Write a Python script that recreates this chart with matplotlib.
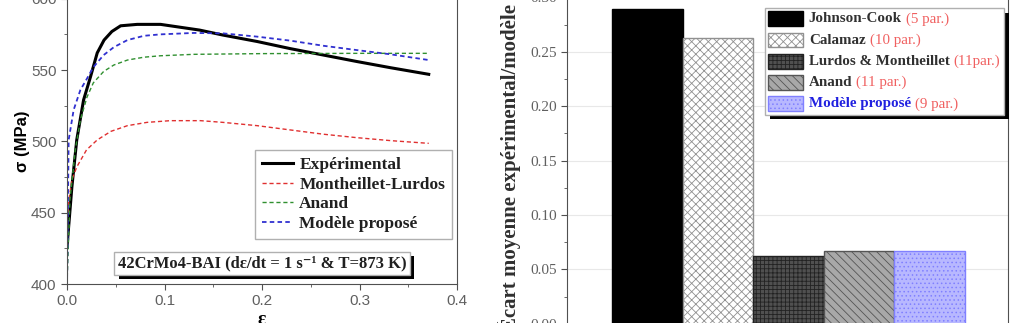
import matplotlib.pyplot as plt
import matplotlib.patheffects as pe
from matplotlib.patches import Rectangle
from matplotlib.offsetbox import AnchoredOffsetbox, VPacker, HPacker, TextArea, DrawingArea
import numpy as np

plt.rcParams['hatch.linewidth'] = 0.6

# ---- left panel: stress-strain curves
eps_exp = [0, 0.005, 0.010, 0.017, 0.024, 0.031, 0.038, 0.046, 0.055, 0.072, 0.096, 0.116,
           0.136, 0.160, 0.195, 0.229, 0.263, 0.297, 0.332, 0.371]
sig_exp = [426, 468, 501, 529, 545, 562, 571, 577, 581, 582, 582, 580,
           578, 574.5, 570, 565, 560.5, 556, 551.6, 547]

eps_ml = [0, 0.002, 0.005, 0.010, 0.020, 0.031, 0.045, 0.062, 0.082, 0.106, 0.137,
          0.160, 0.195, 0.229, 0.263, 0.297, 0.332, 0.371]
sig_ml = [445, 459, 473, 482, 494, 501, 507, 511, 513.3, 514.5, 514.5,
          513.3, 511, 508, 505, 502.6, 500.5, 498.6]

eps_an = [0, 0.003, 0.0085, 0.0137, 0.0205, 0.027, 0.0376, 0.048, 0.062, 0.079, 0.096,
          0.130, 0.200, 0.300, 0.371]
sig_an = [400, 459, 494, 515, 531, 541, 549, 553.5, 557, 559, 560,
          561, 561.5, 561.7, 561.7]

eps_mp = [0, 0.0017, 0.0068, 0.0137, 0.0205, 0.027, 0.0376, 0.048, 0.062, 0.079, 0.096,
          0.130, 0.160, 0.195, 0.229, 0.263, 0.297, 0.332, 0.371]
sig_mp = [398, 501, 522, 536, 544, 552, 560.5, 566, 571, 574, 575,
          576, 575.7, 573.4, 570.6, 567, 564, 561, 557]

# ---- right panel: bars
models = ['Johnson-Cook', 'Calamaz', 'Lurdos & Montheillet', 'Anand', 'Modèle proposé']
params = ['(5 par.)', '(10 par.)', '(11par.)', '(11 par.)', '(9 par.)']
ecart = [0.289, 0.263, 0.062, 0.067, 0.067]

fig = plt.figure(figsize=(10.32, 3.23), dpi=100)

serif = ['Liberation Serif', 'DejaVu Serif']
sans = ['Liberation Sans', 'DejaVu Sans']
tickc = '#606060'

ax = fig.add_axes([67 / 1032, 39 / 323, 390 / 1032, 285.3 / 323])
ax.plot(eps_exp, sig_exp, color='k', lw=2.2, label='Expérimental')
ax.plot(eps_ml, sig_ml, color='#e03030', lw=1, ls=(0, (3, 2)), label='Montheillet-Lurdos')
ax.plot(eps_an, sig_an, color='#309030', lw=1, ls=(0, (3, 2)), label='Anand')
ax.plot(eps_mp, sig_mp, color='#3030d0', lw=1.3, ls=(0, (2.5, 1.8)), label='Modèle proposé')
ax.set_xlim(0, 0.4)
ax.set_ylim(400, 600)
ax.set_xticks([0, 0.1, 0.2, 0.3, 0.4])
ax.set_xticks([0.05, 0.15, 0.25, 0.35], minor=True)
ax.set_yticks([400, 450, 500, 550, 600])
ax.set_yticks([425, 475, 525, 575], minor=True)
ax.set_xticklabels(['0.0', '0.1', '0.2', '0.3', '0.4'])
for t in ax.get_xticklabels() + ax.get_yticklabels():
    t.set_family(sans)
    t.set_color(tickc)
    t.set_fontsize(11)
ax.tick_params(direction='out', length=4, color='#505050')
ax.tick_params(which='minor', direction='out', length=2.5, color='#505050')
for s in ax.spines.values():
    s.set_color('#505050')
ax.set_ylabel('σ (MPa)', family=sans, fontsize=12, fontweight='bold', labelpad=1)
ax.set_xlabel('ε', family=serif, fontsize=14, fontweight='bold', labelpad=2)

leg = ax.legend(loc='upper left', bbox_to_anchor=(255 / 1032, 1 - 150 / 323),
                bbox_transform=fig.transFigure, borderaxespad=0, fancybox=False, framealpha=1,
                prop={'family': serif, 'weight': 'bold', 'size': 12.5},
                handlelength=1.8, handletextpad=0.35, labelspacing=0.2, borderpad=0.4)
leg.get_frame().set_edgecolor('#b0b0b0')
leg.get_frame().set_linewidth(1)
for t in leg.get_texts():
    t.set_color('#202020')

txt = ax.text(0.2, 414.5, '42CrMo4-BAI (dε/dt = 1 s⁻¹ & T=873 K)', ha='center', va='center',
              family=serif, fontweight='bold', fontsize=12, color='#202020',
              bbox=dict(boxstyle='square,pad=0.2', fc='white', ec='#b0b0b0', lw=1))
txt.get_bbox_patch().set_path_effects([pe.SimplePatchShadow(offset=(3, -3), shadow_rgbFace='k', alpha=1),
                                       pe.Normal()])

# ---- right panel
ax2 = fig.add_axes([567 / 1032, -0.7 / 323, 441 / 1032, 326.3 / 323])
x = np.arange(len(models))
fills = ['black', 'white', '#505050', '#a8a8a8', '#b8b8ff']
edges = ['black', '#909090', '#222222', '#555555', '#8080ff']
hatches = [None, 'xxxx', '++++', '\\\\\\\\', '....']
bars = ax2.bar(x, ecart, width=1.0, color=fills, edgecolor=edges, linewidth=1)
for b, h in zip(bars, hatches):
    if h:
        b.set_hatch(h)
ax2.set_xlim(-1.14, 5.11)
ax2.set_ylim(0, 0.30)
ax2.set_xticks([])
ax2.set_yticks([0, 0.05, 0.10, 0.15, 0.20, 0.25, 0.30])
ax2.set_yticks(np.arange(0.025, 0.3, 0.05), minor=True)
ax2.set_yticklabels(['0.00', '0.05', '0.10', '0.15', '0.20', '0.25', '0.30'])
for t in ax2.get_yticklabels():
    t.set_family(serif)
    t.set_color(tickc)
    t.set_fontsize(11)
ax2.tick_params(direction='out', length=4, color='#505050')
ax2.tick_params(which='minor', direction='out', length=2.5, color='#505050')
ax2.yaxis.grid(True, color='#e8e8e8', lw=0.8)
ax2.set_axisbelow(True)
for s in ax2.spines.values():
    s.set_color('#505050')
ax2.set_ylabel('Écart moyenne expérimental/modèle', family=serif, fontsize=15,
               fontweight='bold', color='#303030')
ax2.yaxis.set_label_coords(-0.105, 0.478)

# legend with two-coloured labels, built from offset boxes
fs2 = 10.8
name_cols = ['#303030', '#303030', '#303030', '#303030', '#2020e0']
rows = []
for b, m, p, c in zip(bars, models, params, name_cols):
    da = DrawingArea(25, 10.5, 0, 0)
    r = Rectangle((0, 0), 25, 10.5, fc=b.get_facecolor(), ec=b.get_edgecolor(), lw=1)
    if b.get_hatch():
        r.set_hatch(b.get_hatch())
    da.add_artist(r)
    t1 = TextArea(m, textprops=dict(family=serif, weight='bold', size=fs2, color=c))
    t2 = TextArea(p, textprops=dict(family=serif, size=fs2, color='#f06060'))
    rows.append(HPacker(children=[da, HPacker(children=[t1, t2], pad=0, sep=3, align='baseline')],
                        pad=0, sep=4, align='center'))
box = VPacker(children=rows, pad=0, sep=4.8, align='left')
lg2 = AnchoredOffsetbox(loc='upper left', child=box, pad=0.25, borderpad=0, frameon=True,
                        bbox_to_anchor=(765 / 1032, 1 - 8 / 323), bbox_transform=fig.transFigure)
lg2.patch.set_boxstyle('square,pad=0')
lg2.patch.set_edgecolor('#b0b0b0')
lg2.patch.set_linewidth(1)
lg2.patch.set_path_effects([pe.SimplePatchShadow(offset=(3.5, -3.5), shadow_rgbFace='k', alpha=1),
                            pe.Normal()])
lg2.set_zorder(6)
ax2.add_artist(lg2)

fig.savefig('out.png', dpi=100)
